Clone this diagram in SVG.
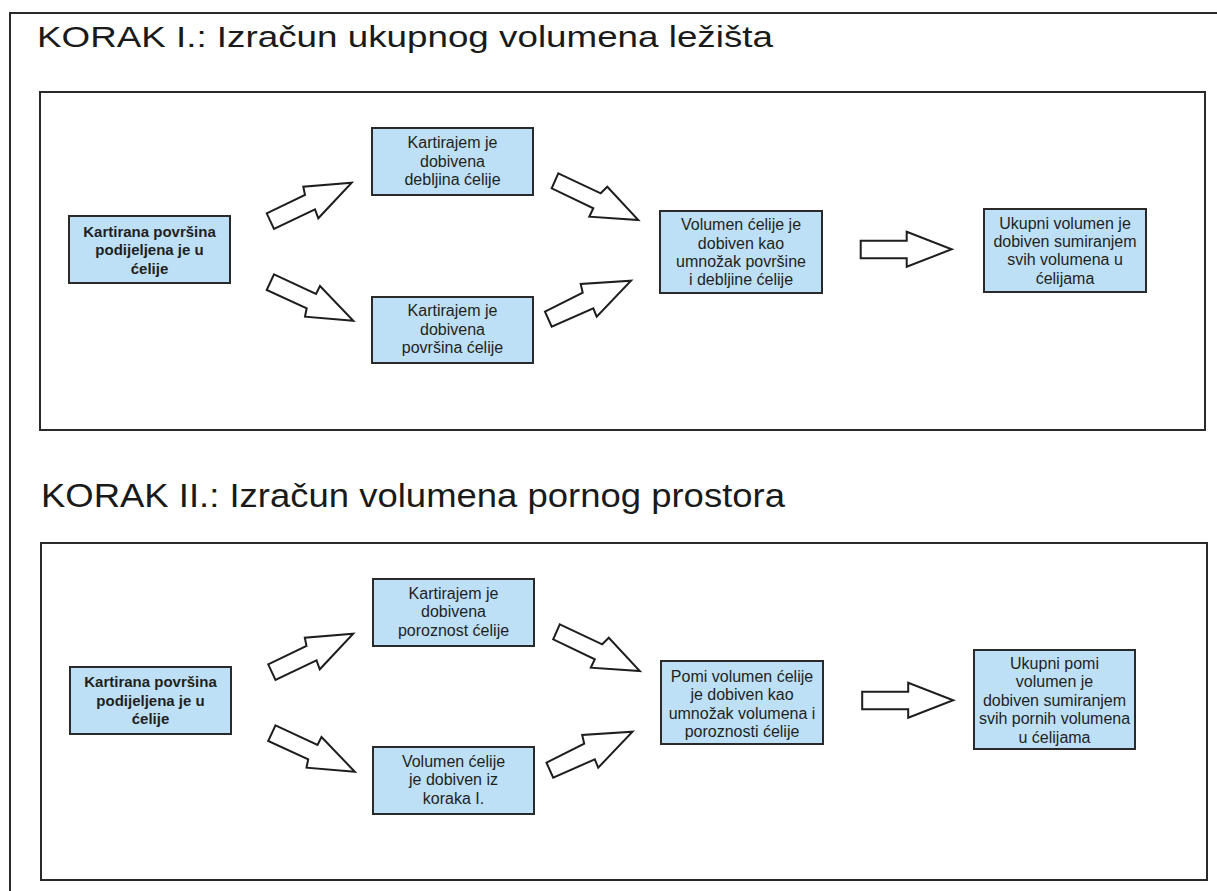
<svg xmlns="http://www.w3.org/2000/svg" width="1217" height="891" viewBox="0 0 1217 891">
<style>
.frame{fill:none;stroke:#2a2a2a;stroke-width:2}
.node{fill:#bde0f6;stroke:#2a2a2a;stroke-width:2}
.arrow{fill:#ffffff;stroke:#1e1e1e;stroke-width:2;stroke-linejoin:miter}
.title{font-family:"Liberation Sans",Arial,sans-serif;fill:#1a1a1a}
.t{font-family:"Liberation Sans",Arial,sans-serif;font-size:16px;fill:#1f1f1f;text-anchor:middle}
.b{font-family:"Liberation Sans",Arial,sans-serif;font-size:15px;font-weight:bold;fill:#1f1f1f;text-anchor:middle}
</style>
<rect x="0" y="0" width="1217" height="891" fill="#ffffff"/>
<rect class="frame" x="10" y="13" width="1230" height="900"/>
<text class="title" x="37" y="47" font-size="30" textLength="736" lengthAdjust="spacingAndGlyphs">KORAK I.: Izračun ukupnog volumena ležišta</text>
<rect class="frame" x="40" y="92" width="1165" height="338"/>
<text class="title" x="41" y="507" font-size="33.5" textLength="744" lengthAdjust="spacingAndGlyphs">KORAK II.: Izračun volumena pornog prostora</text>
<rect class="frame" x="41" y="543" width="1166" height="337"/>

<g id="connectors">
  <g id="connectors-1">
    <polygon class="arrow" points="266.7,213.3 305,195 303.3,186.7 351.7,182.7 318.3,218.3 315,209.3 274,229"/>
    <polygon class="arrow" points="274,274.3 316,294 320,286 353.3,320.7 305,316.7 306.7,308.3 266.7,290"/>
    <polygon class="arrow" points="558.3,173.3 600.7,193.3 607.3,186.7 638.3,220 589.3,216.7 593.3,208.3 551.7,188.3"/>
    <polygon class="arrow" points="545,311.7 582.7,292.7 580.7,284 631,280.7 596.7,316.7 593.3,308.3 551.7,326.7"/>
    <polygon class="arrow" points="860.7,240.7 906.7,240.7 906.7,231.7 951.7,249.3 906.7,266.7 906.7,258.3 860.7,258.3"/>
  </g>
  <g id="connectors-2" transform="translate(1.5,451)">
    <polygon class="arrow" points="266.7,213.3 305,195 303.3,186.7 351.7,182.7 318.3,218.3 315,209.3 274,229"/>
    <polygon class="arrow" points="274,274.3 316,294 320,286 353.3,320.7 305,316.7 306.7,308.3 266.7,290"/>
    <polygon class="arrow" points="558.3,173.3 600.7,193.3 607.3,186.7 638.3,220 589.3,216.7 593.3,208.3 551.7,188.3"/>
    <polygon class="arrow" points="545,311.7 582.7,292.7 580.7,284 631,280.7 596.7,316.7 593.3,308.3 551.7,326.7"/>
    <polygon class="arrow" points="860.7,240.7 906.7,240.7 906.7,231.7 951.7,249.3 906.7,266.7 906.7,258.3 860.7,258.3"/>
  </g>
</g>

<g id="n1-start">
  <rect class="node" x="69" y="216" width="161" height="67"/>
  <text class="b" x="149.5" y="236.5">Kartirana površina</text>
  <text class="b" x="149.5" y="255">podijeljena je u</text>
  <text class="b" x="149.5" y="273.5">ćelije</text>
</g>
<g id="n1-debljina">
  <rect class="node" x="372" y="128" width="161" height="67"/>
  <text class="t" x="452.5" y="148">Kartirajem je</text>
  <text class="t" x="452.5" y="166.5">dobivena</text>
  <text class="t" x="452.5" y="185">debljina ćelije</text>
</g>
<g id="n1-povrsina">
  <rect class="node" x="372" y="297" width="161" height="66"/>
  <text class="t" x="452.5" y="316">Kartirajem je</text>
  <text class="t" x="452.5" y="334.5">dobivena</text>
  <text class="t" x="452.5" y="353">površina ćelije</text>
</g>
<g id="n1-volumen">
  <rect class="node" x="660" y="211" width="162" height="82"/>
  <text class="t" x="741" y="230">Volumen ćelije je</text>
  <text class="t" x="741" y="248.5">dobiven kao</text>
  <text class="t" x="741" y="266.5">umnožak površine</text>
  <text class="t" x="741" y="285">i debljine ćelije</text>
</g>
<g id="n1-ukupni">
  <rect class="node" x="984" y="209" width="162" height="83"/>
  <text class="t" x="1065" y="228.5">Ukupni volumen je</text>
  <text class="t" x="1065" y="247">dobiven sumiranjem</text>
  <text class="t" x="1065" y="265">svih volumena u</text>
  <text class="t" x="1065" y="283.5">ćelijama</text>
</g>

<g id="n2-start">
  <rect class="node" x="70" y="667" width="161" height="67"/>
  <text class="b" x="150.5" y="687">Kartirana površina</text>
  <text class="b" x="150.5" y="705.5">podijeljena je u</text>
  <text class="b" x="150.5" y="724">ćelije</text>
</g>
<g id="n2-poroznost">
  <rect class="node" x="373" y="579" width="161" height="67"/>
  <text class="t" x="453.5" y="598.5">Kartirajem je</text>
  <text class="t" x="453.5" y="617">dobivena</text>
  <text class="t" x="453.5" y="635.5">poroznost ćelije</text>
</g>
<g id="n2-volumen-iz">
  <rect class="node" x="373" y="747" width="161" height="67"/>
  <text class="t" x="453.5" y="766.5">Volumen ćelije</text>
  <text class="t" x="453.5" y="785">je dobiven iz</text>
  <text class="t" x="453.5" y="803.5">koraka I.</text>
</g>
<g id="n2-porni">
  <rect class="node" x="661" y="661" width="162" height="83"/>
  <text class="t" x="742" y="681.5">Pomi volumen ćelije</text>
  <text class="t" x="742" y="700">je dobiven kao</text>
  <text class="t" x="742" y="718.5">umnožak volumena i</text>
  <text class="t" x="742" y="737">poroznosti ćelije</text>
</g>
<g id="n2-ukupni">
  <rect class="node" x="974" y="650" width="161" height="99"/>
  <text class="t" x="1054.5" y="668.5">Ukupni pomi</text>
  <text class="t" x="1054.5" y="687">volumen je</text>
  <text class="t" x="1054.5" y="705.5">dobiven sumiranjem</text>
  <text class="t" x="1054.5" y="724">svih pornih volumena</text>
  <text class="t" x="1054.5" y="742.5">u ćelijama</text>
</g>
</svg>
